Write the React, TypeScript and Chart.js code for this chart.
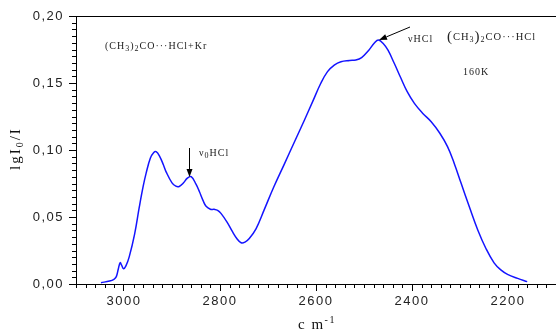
import React, { useEffect, useRef } from "react";
import { Chart, registerables } from "chart.js";

Chart.register(...registerables);

// wavenumber, cm^-1
const wavenumbers = [
  3048, 3030, 3021, 3016, 3012, 3008, 3005, 3001, 2996, 2989, 2978, 2968, 2960,
  2954, 2945, 2938, 2933, 2926, 2918, 2912, 2900, 2892, 2885, 2876, 2868, 2860,
  2850, 2843, 2835, 2829, 2820, 2812, 2805, 2798, 2785, 2774, 2765, 2756, 2748,
  2739, 2725, 2708, 2688, 2666, 2645, 2624, 2607, 2590, 2576, 2562, 2548, 2530,
  2517, 2505, 2490, 2478, 2470, 2460, 2450, 2437, 2423, 2410, 2395, 2378, 2360,
  2342, 2326, 2312, 2298, 2280, 2263, 2246, 2229, 2215, 2201, 2180, 2160,
];
// lg I0/I
const absorbance = [
  0.001, 0.0022, 0.0035, 0.0055, 0.011, 0.0159, 0.014, 0.0114, 0.0135, 0.0204,
  0.037, 0.0577, 0.073, 0.0826, 0.094, 0.0982, 0.0988, 0.0955, 0.089, 0.0835,
  0.0755, 0.073, 0.0728, 0.0755, 0.079, 0.0801, 0.0745, 0.069, 0.062, 0.058,
  0.0558, 0.0557, 0.055, 0.0527, 0.046, 0.039, 0.034, 0.0308, 0.0313, 0.034,
  0.0412, 0.0553, 0.0724, 0.0895, 0.106, 0.1224, 0.1361, 0.1498, 0.1585, 0.1634,
  0.1659, 0.1668, 0.1672, 0.169, 0.1745, 0.18, 0.1821, 0.1795, 0.1745, 0.1647,
  0.1535, 0.1435, 0.1348, 0.1275, 0.1211, 0.1125, 0.1025, 0.09, 0.0755, 0.057,
  0.0403, 0.0265, 0.0158, 0.0105, 0.0072, 0.0042, 0.0018,
];
const xTickValues = [3000, 2800, 2600, 2400, 2200];
const yTickValues = [0, 0.05, 0.1, 0.15, 0.2];
const X_MIN = 2100;
const X_MAX = 3100;
const Y_MIN = 0;
const Y_MAX = 0.2;

type Seg = { t: string; size?: number; dy?: number };

function drawRich(ctx: CanvasRenderingContext2D, segs: Seg[], x: number, y: number, base: number, family: string, spacing: string) {
  ctx.save();
  (ctx as any).letterSpacing = spacing;
  ctx.textBaseline = "middle";
  ctx.textAlign = "left";
  let cx = x;
  for (const s of segs) {
    ctx.font = `${s.size ?? base}px ${family}`;
    ctx.fillText(s.t, cx, y + (s.dy ?? 0));
    cx += ctx.measureText(s.t).width;
  }
  ctx.restore();
}

function arrow(ctx: CanvasRenderingContext2D, x1: number, y1: number, x2: number, y2: number) {
  ctx.save();
  ctx.strokeStyle = "#000";
  ctx.fillStyle = "#000";
  ctx.lineWidth = 1;
  const ang = Math.atan2(y2 - y1, x2 - x1);
  const hl = 8;
  const hw = 3;
  const bx = x2 - hl * Math.cos(ang);
  const by = y2 - hl * Math.sin(ang);
  ctx.beginPath();
  ctx.moveTo(x1, y1);
  ctx.lineTo(bx, by);
  ctx.stroke();
  ctx.beginPath();
  ctx.moveTo(x2, y2);
  ctx.lineTo(bx + hw * Math.sin(ang), by - hw * Math.cos(ang));
  ctx.lineTo(bx - hw * Math.sin(ang), by + hw * Math.cos(ang));
  ctx.closePath();
  ctx.fill();
  ctx.restore();
}

const SERIF = "'Liberation Serif', 'DejaVu Serif', serif";

const decorPlugin = {
  id: "decor",
  beforeDraw(chart: any) {
    chart.ctx.letterSpacing = "1.5px";
  },
  afterDraw(chart: any) {
    const ctx: CanvasRenderingContext2D = chart.ctx;
    const xs = chart.scales.x;
    const ys = chart.scales.y;
    const area = chart.chartArea;
    ctx.save();
    ctx.strokeStyle = "#000";
    ctx.lineWidth = 1;
    // minor ticks
    ctx.beginPath();
    for (let v = X_MIN; v <= X_MAX; v += 20) {
      if (v % 200 === 0) continue;
      const px = Math.round(xs.getPixelForValue(v)) + 0.5;
      ctx.moveTo(px, area.bottom);
      ctx.lineTo(px, area.bottom + 4);
    }
    for (let i = 0; i <= 40; i++) {
      if (i % 10 === 0) continue;
      const py = Math.round(ys.getPixelForValue(i * 0.005)) + 0.5;
      ctx.moveTo(area.left - 4, py);
      ctx.lineTo(area.left, py);
    }
    // top frame line
    ctx.moveTo(area.left, Math.round(area.top) + 0.5);
    ctx.lineTo(area.right, Math.round(area.top) + 0.5);
    ctx.stroke();
    ctx.restore();

    ctx.save();
    ctx.fillStyle = "#222";
    // annotations
    drawRich(ctx, [
      { t: "(CH" }, { t: "3", size: 8, dy: 3 }, { t: ")" }, { t: "2", size: 8, dy: 3 },
      { t: "CO···HCl+Kr" },
    ], 105, 46, 10, SERIF, "1px");
    drawRich(ctx, [{ t: "ν" }, { t: "0", size: 8, dy: 3 }, { t: "HCl" }], 199, 153, 10, SERIF, "1px");
    drawRich(ctx, [{ t: "νHCl" }], 408, 39, 10, SERIF, "1px");
    drawRich(ctx, [
      { t: "(", size: 15 }, { t: "CH" }, { t: "3", size: 8, dy: 3 }, { t: ")", size: 15 },
      { t: "2", size: 8, dy: 3 }, { t: "CO···HCl" },
    ], 447, 37, 10.5, SERIF, "1px");
    drawRich(ctx, [{ t: "160K" }], 463, 72, 10, SERIF, "1px");
    ctx.restore();

    arrow(ctx, 189.5, 148, 189.5, 177);
    arrow(ctx, 410, 27, 379, 40);

    // axis titles
    ctx.save();
    ctx.fillStyle = "#111";
    drawRich(ctx, [{ t: "c m" }, { t: "-1", size: 10, dy: -5 }], 298, 325, 15, SERIF, "1.5px");
    ctx.translate(16, 170);
    ctx.rotate(-Math.PI / 2);
    drawRich(ctx, [{ t: "lg" }, { t: "I" }, { t: "0", size: 10, dy: 4 }, { t: "/I" }], 0, 0, 15, SERIF, "2px");
    ctx.restore();
  },
};

export default function App() {
  const ref = useRef<HTMLCanvasElement | null>(null);
  useEffect(() => {
    if (!ref.current) return;
    const data = wavenumbers.map((x, i) => ({ x, y: absorbance[i] }));
    const tickFont = { family: "'Liberation Sans', Arial, sans-serif", size: 13 };
    const chart = new Chart(ref.current, {
      type: "line",
      data: {
        datasets: [
          {
            data,
            borderColor: "#1414ff",
            borderWidth: 1.5,
            pointRadius: 0,
            tension: 0.4,
            fill: false,
          },
        ],
      },
      options: {
        animation: false,
        responsive: false,
        events: [],
        layout: { padding: { top: 16, left: 0, right: 0, bottom: 0 } },
        plugins: { legend: { display: false }, tooltip: { enabled: false }, title: { display: false } },
        scales: {
          x: {
            type: "linear",
            reverse: true,
            min: X_MIN,
            max: X_MAX,
            afterBuildTicks: (s: any) => {
              s.ticks = xTickValues.map((v) => ({ value: v }));
            },
            afterFit: (s: any) => {
              s.height = 48;
            },
            grid: { drawOnChartArea: false, drawTicks: true, tickLength: 7, tickColor: "#000", color: "#000" },
            border: { display: true, color: "#000", width: 1 },
            ticks: {
              autoSkip: false,
              maxRotation: 0,
              padding: 3,
              color: "#222",
              font: tickFont,
              callback: (v: any) => String(v),
            },
          },
          y: {
            type: "linear",
            min: Y_MIN,
            max: Y_MAX,
            afterBuildTicks: (s: any) => {
              s.ticks = yTickValues.map((v) => ({ value: v }));
            },
            afterFit: (s: any) => {
              s.width = 76;
            },
            grid: { drawOnChartArea: false, drawTicks: true, tickLength: 7, tickColor: "#000", color: "#000" },
            border: { display: true, color: "#000", width: 1 },
            ticks: {
              padding: 5,
              color: "#222",
              font: tickFont,
              callback: (v: any) => Number(v).toFixed(2).replace(".", ","),
            },
          },
        },
      },
      plugins: [decorPlugin],
    } as any);
    return () => chart.destroy();
  }, []);
  return (
    <div style={{ position: "absolute", left: 0, top: 0, width: 556, height: 332, background: "#fff" }}>
      <canvas ref={ref} width={556} height={332} style={{ width: 556, height: 332, display: "block" }} />
    </div>
  );
}
